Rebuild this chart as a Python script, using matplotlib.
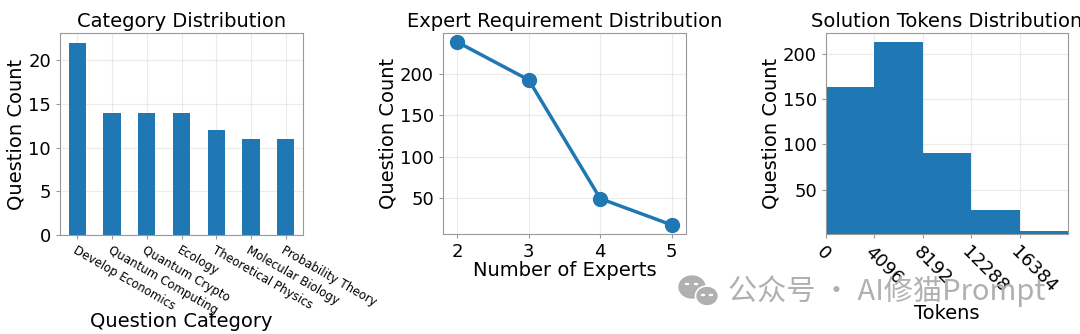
import matplotlib
matplotlib.use('Agg')
import matplotlib.pyplot as plt
from matplotlib.patches import Ellipse, Circle

# data
categories = ['Develop Economics', 'Quantum Computing', 'Quantum Crypto', 'Ecology',
              'Theoretical Physics', 'Molecular Biology', 'Probability Theory']
category_counts = [22, 14, 14, 14, 12, 11, 11]

num_experts = [2, 3, 4, 5]
expert_counts = [239, 193, 49, 17]

token_bins = [0, 4096, 8192, 12288, 16384, 20480]
token_counts = [163, 213, 91, 28, 4]

blue = '#1f77b4'
spine_col = '#999999'

fig = plt.figure(figsize=(10.8, 3.34), dpi=100)


def style(ax):
    for s in ax.spines.values():
        s.set_color(spine_col)
    ax.grid(True, alpha=0.25)
    ax.set_axisbelow(True)
    ax.tick_params(colors=spine_col, labelcolor='black', labelsize=13, length=3)


# Category distribution
ax1 = fig.add_axes([60 / 1080, 1 - 235 / 334, 243 / 1080, 202 / 334])
ax1.bar(range(len(categories)), category_counts, width=0.5, color=blue)
ax1.set_xlim(-0.5, len(categories) - 0.5)
ax1.set_ylim(0, 23.1)
ax1.set_yticks([0, 5, 10, 15, 20])
ax1.set_xticks(range(len(categories)))
ax1.set_xticklabels(categories, rotation=-30, ha='left', rotation_mode='anchor')
ax1.set_title('Category Distribution', fontsize=14, pad=4)
ax1.set_ylabel('Question Count', fontsize=14, labelpad=2)
ax1.set_xlabel('Question Category', fontsize=14)
ax1.xaxis.set_label_coords(0.5, -0.38)
style(ax1)
ax1.tick_params(axis='x', labelsize=8.5)

# Expert requirement distribution
ax2 = fig.add_axes([443 / 1080, 1 - 234 / 334, 243 / 1080, 201 / 334])
ax2.plot(num_experts, expert_counts, color=blue, linewidth=2.5, marker='o', markersize=10)
ax2.set_xlim(1.8, 5.2)
ax2.set_ylim(6, 250)
ax2.set_xticks(num_experts)
ax2.set_yticks([50, 100, 150, 200])
ax2.set_title('Expert Requirement Distribution', fontsize=14, pad=4)
ax2.set_ylabel('Question Count', fontsize=14, labelpad=2)
ax2.set_xlabel('Number of Experts', fontsize=14)
ax2.xaxis.set_label_coords(0.5, -0.135)
style(ax2)

# Solution tokens distribution
ax3 = fig.add_axes([826 / 1080, 1 - 234 / 334, 242 / 1080, 201 / 334])
ax3.hist(token_bins[:-1], bins=token_bins, weights=token_counts, color=blue)
ax3.set_xlim(0, 20480)
ax3.set_ylim(1, 223)
ax3.set_xticks(token_bins[:-1])
ax3.set_xticklabels([str(b) for b in token_bins[:-1]], rotation=-45, ha='left',
                    rotation_mode='anchor')
ax3.set_yticks([50, 100, 150, 200])
ax3.set_title('Solution Tokens Distribution', fontsize=14, pad=4)
ax3.set_ylabel('Question Count', fontsize=14, labelpad=2)
ax3.set_xlabel('Tokens', fontsize=14)
ax3.xaxis.set_label_coords(0.5, -0.35)
style(ax3)

# watermark
wm = '#b0b0b0'
tf = fig.transFigure
fig.patches.append(Ellipse((692 / 1080, 1 - 287 / 334), 26 / 1080, 22 / 334,
                           transform=tf, color=wm))
fig.patches.append(Ellipse((707 / 1080, 1 - 296 / 334), 23 / 1080, 20 / 334,
                           transform=tf, color=wm, ec='white', lw=1.2))
for ex, ey in [(687, 284), (696, 284), (703, 295), (711, 295)]:
    fig.patches.append(Circle((ex / 1080, 1 - ey / 334), 1.6 / 1080,
                              transform=tf, color='white'))
fig.text(728 / 1080, 1 - 291 / 334, '公众号 · AI修猫Prompt', fontsize=21, color=wm,
         va='center', ha='left', family=['Noto Sans CJK SC', 'DejaVu Sans'])

fig.savefig('out.png', dpi=100)
